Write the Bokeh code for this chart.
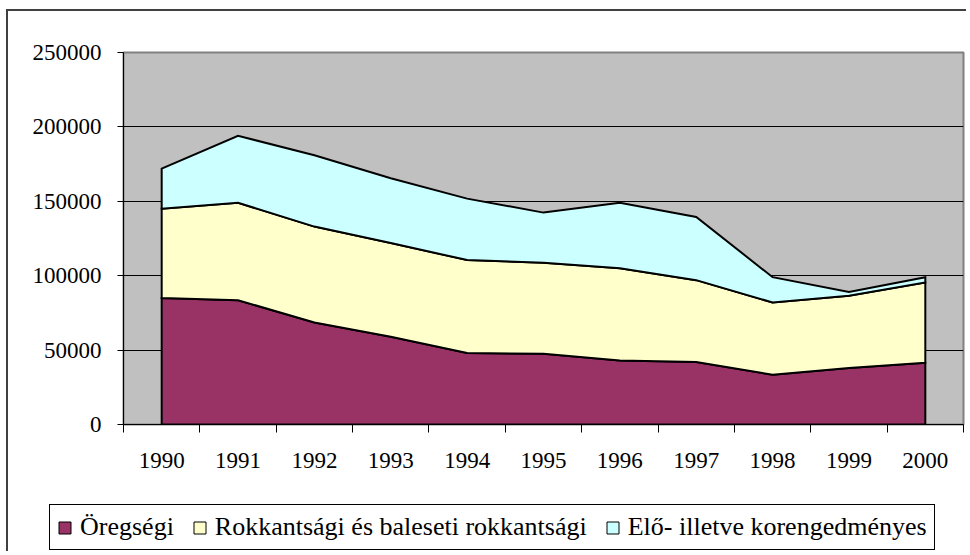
import numpy as np
from bokeh.plotting import figure
from bokeh.models import Range1d, FixedTicker, BasicTickFormatter, Legend, LegendItem
from bokeh.embed import file_html
from bokeh.resources import INLINE

years = [1990, 1991, 1992, 1993, 1994, 1995, 1996, 1997, 1998, 1999, 2000]
series_names = ["Öregségi", "Rokkantsági és baleseti rokkantsági", "Elő- illetve korengedményes"]
oregsegi = [85000, 83500, 68500, 59000, 48000, 47500, 43000, 42000, 33500, 38000, 41500]
rokkant = [60000, 65500, 64500, 63000, 62500, 61200, 62000, 55000, 48500, 48500, 54000]
elo = [27000, 45000, 48000, 43500, 41300, 33700, 44000, 42500, 17000, 2500, 3500]
colors = ["#993366", "#FFFFCC", "#CCFFFF"]
y_ticks = [0, 50000, 100000, 150000, 200000, 250000]

FONT = "'Liberation Serif', 'Times New Roman', 'DejaVu Serif', serif"

p = figure(width=960, height=478,
           min_border_left=115, min_border_right=5, min_border_top=41, min_border_bottom=65,
           x_range=Range1d(years[0] - 0.5, years[-1] + 0.5), y_range=Range1d(0, 250000),
           output_backend="svg", toolbar_location=None,
           background_fill_color="#C0C0C0", border_fill_color="white",
           outline_line_color="#808080", outline_line_width=2)
p.styles = {"border-left": "2px solid #404040", "border-top": "2px solid #404040",
            "margin-left": "6px", "margin-top": "9px"}

stack_data = []
lower = np.zeros(len(years))
for name, vals, col in zip(series_names, [oregsegi, rokkant, elo], colors):
    upper = lower + np.array(vals, dtype=float)
    xs = list(years) + list(years[::-1])
    ys = list(upper) + list(lower[::-1])
    stack_data.append((xs, ys))
    p.patch(xs, ys, fill_color=col, line_color="black", line_width=2, line_join="miter")
    lower = upper

# grid
p.xgrid.visible = False
p.ygrid.ticker = FixedTicker(ticks=y_ticks)
p.ygrid.grid_line_color = "black"
p.ygrid.grid_line_width = 1

# y axis
p.yaxis.ticker = FixedTicker(ticks=y_ticks)
p.yaxis.formatter = BasicTickFormatter(use_scientific=False)
p.yaxis.major_label_text_font = FONT
p.yaxis.major_label_text_font_size = "23px"
p.yaxis.major_label_text_color = "black"
p.yaxis.major_tick_out = 6
p.yaxis.major_tick_in = 0
p.yaxis.minor_tick_line_color = None
p.yaxis.axis_line_color = "black"
p.yaxis.major_tick_line_color = "black"
p.yaxis.major_label_standoff = 16

# x axis: labels at category centres, tick marks at boundaries
boundaries = [y - 0.5 for y in years] + [years[-1] + 0.5]
p.xaxis.ticker = FixedTicker(ticks=years, minor_ticks=boundaries)
p.xaxis.major_label_overrides = {y: str(y) for y in years}
p.xaxis.major_label_text_font = FONT
p.xaxis.major_label_text_font_size = "23px"
p.xaxis.major_label_text_color = "black"
p.xaxis.major_tick_line_color = None
p.xaxis.major_tick_out = 8
p.xaxis.major_tick_in = 0
p.xaxis.minor_tick_out = 8
p.xaxis.minor_tick_in = 0
p.xaxis.minor_tick_line_color = "black"
p.xaxis.axis_line_color = "black"
p.xaxis.major_label_standoff = 20

# legend strip below the chart (separate root so its frame is not aligned to the chart's)
q = figure(width=960, height=64,
           min_border=0, min_border_left=0, min_border_right=0, min_border_top=0, min_border_bottom=0,
           x_axis_type=None, y_axis_type=None,
           x_range=Range1d(0, 1), y_range=Range1d(0, 1),
           output_backend="svg", toolbar_location=None,
           background_fill_color="white", border_fill_color="white",
           outline_line_color=None)
q.styles = {"border-left": "2px solid #404040", "margin-left": "6px"}
q.grid.visible = False
key_renderers = []
for (xs, ys), c in zip(stack_data, colors):
    r = q.patch(xs, ys, fill_color=c, line_color="black", line_width=1)
    r.visible = False
    key_renderers.append(r)
legend = Legend(items=[LegendItem(label=n, renderers=[r]) for n, r in zip(series_names, key_renderers)],
                orientation="horizontal", location=(41, 1),
                border_line_color="black", border_line_width=1, border_line_alpha=1,
                background_fill_color="white", background_fill_alpha=1,
                label_text_font=FONT, label_text_font_size="26px", label_text_color="black",
                glyph_width=15, glyph_height=15, spacing=18, padding=7, margin=0,
                label_standoff=8, inactive_fill_alpha=0)
q.add_layout(legend, "center")

open("out.html", "w").write(file_html([p, q], INLINE))
